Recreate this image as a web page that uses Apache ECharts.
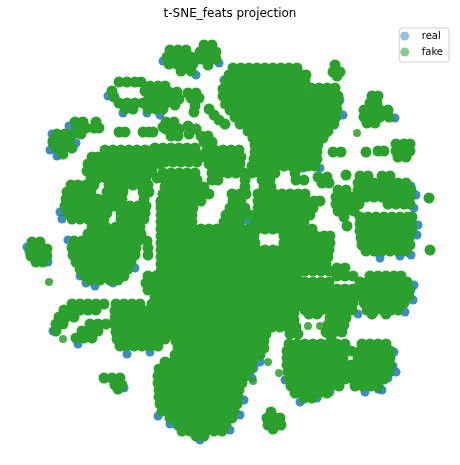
<!DOCTYPE html>
<html>
<head>
<meta charset="utf-8">
<script src="https://cdn.jsdelivr.net/npm/echarts@6/dist/echarts.min.js"></script>
<style>
html, body { margin: 0; padding: 0; background: #fff; }
#main { width: 460px; height: 465px; }
</style>
</head>
<body>
<div id="main"></div>
<script>
// t-SNE coordinates; each row is [y, x, x, ...]
const fakeNorth = [
    // two blobs at the top
    [50, 170, 178, 186], [57, 167, 175, 183, 191], [64, 169, 177, 185, 193], [71, 181, 191],
    [45, 204, 212], [52, 200, 208, 216], [59, 201, 209, 216], [65, 208],
    // ring
    [82, 119, 127, 135, 141], [86, 150, 158, 165], [91, 112, 145, 153, 161], [97, 114, 149, 157, 165],
    [103, 119, 127, 135, 143, 151, 159, 166], [109, 125, 133, 148, 156, 163],
    // pair on the left
    [122, 75, 83, 96], [128, 78, 86, 94, 99], [134, 57, 65, 73, 81], [141, 53, 61, 69],
    [148, 56, 64, 72], [154, 63],
    [132, 119, 125, 143, 149, 153],
    // scattered blobs
    [92, 169, 177], [99, 171, 179], [105, 175], [93, 188, 196], [98, 191, 199], [106, 195], [112, 194],
    [109, 209], [115, 214], [120, 219], [124, 225],
    [122, 166, 174], [127, 163], [129, 166, 174, 179], [136, 171, 178], [126, 188], [134, 189],
    [129, 196], [136, 201, 208], [142, 204, 212],
    [148, 155, 163, 171, 179, 187, 195], [155, 156, 161, 169, 177, 185, 193, 199], [162, 165, 173, 181, 189, 197],
    [150, 207, 215, 223, 231, 239], [157, 205, 213, 221, 229, 237, 241], [164, 209, 217, 225, 233, 240],
    // large upper cluster
    [68, 233, 241, 249, 257, 265, 273, 281, 289, 297],
    [75, 229, 237, 245, 253, 261, 269, 277, 285, 293, 301, 306],
    [82, 226, 234, 242, 250, 258, 266, 274, 282, 290, 298, 305],
    [88, 311, 319, 327, 335],
    [89, 223, 230, 238, 246, 254, 262, 270, 278, 286, 294, 302],
    [96, 223, 231, 239, 247, 255, 263, 271, 279, 287, 295, 303, 311, 319, 327, 335, 338],
    [103, 226, 233, 241, 249, 257, 265, 273, 281, 289, 297, 305, 313, 321, 329, 337],
    [110, 230, 237, 245, 253, 261, 269, 277, 285, 293, 301, 309, 317, 325, 333, 337],
    [117, 235, 242, 250, 258, 266, 274, 282, 290, 298, 306, 314, 322, 330, 336],
    [124, 240, 247, 255, 263, 271, 279, 287, 295, 303, 311, 319, 327, 334],
    [131, 248, 256, 264, 272, 280, 288, 296, 304, 312, 320, 328],
    [138, 253, 261, 269, 277, 285, 293, 301, 309, 317, 323],
    [145, 255, 263, 271, 279, 287, 295, 303, 311, 318],
    [152, 255, 263, 271, 279, 287, 295, 303, 311, 317],
    [159, 254, 262, 270, 278, 286, 294, 302, 310, 317],
    [166, 252, 260, 268, 276, 284, 292, 300, 308, 315],
    // small blobs to the right
    [65, 335], [72, 333, 340], [76, 337],
    [96, 372, 378], [103, 370, 377], [110, 364, 372, 380, 388], [117, 364, 372, 380, 389], [123, 367, 375],
    [144, 396, 404, 410], [151, 396, 404, 410], [157, 398, 406],
    [152, 333, 341, 366], [151, 378, 384]
];

const fakeWest = [
    [150, 105, 113, 121, 129, 137, 145, 153],
    [157, 92, 98, 106, 114, 122, 130, 138, 146, 154],
    [164, 88, 96, 104, 112, 120, 128, 136, 144, 152, 160],
    [171, 87, 96, 104, 112, 120, 128, 136, 144, 152],
    [178, 91, 98, 106, 114, 122, 130, 138, 146, 157],
    [185, 71, 78, 86, 94, 109, 117, 125, 133, 141, 148],
    [192, 67, 75, 83, 91, 107, 115, 123, 143, 149],
    [199, 66, 74, 82, 90, 98, 106, 114, 122, 144],
    [203, 161],
    [206, 65, 74, 82, 90, 98, 106, 114, 122, 130, 138, 146],
    [213, 67, 75, 83, 91, 99, 107, 121, 129, 137, 145],
    [219, 72, 80, 88, 96, 104, 121, 129, 137, 144],
    [227, 92, 100, 106, 116, 124, 132, 140],
    [234, 88, 96, 104, 112, 120, 128, 136, 141],
    [241, 74, 82, 90, 98, 106, 114, 122, 130, 138, 147],
    [248, 72, 80, 88, 96, 104, 112, 120, 128, 136, 148],
    [255, 73, 81, 89, 97, 105, 113, 121, 129, 135, 148],
    [262, 76, 84, 92, 100, 108, 116, 124, 131],
    [269, 80, 88, 96, 104, 112, 120, 128],
    [276, 85, 93, 101, 109, 117, 124, 148, 156, 164],
    [280, 90, 100, 110, 118],
    [283, 146, 154, 162], [290, 148, 156, 164], [297, 155, 163],
    // far left blob
    [242, 32, 40], [249, 31, 39, 47], [256, 31, 39, 47], [262, 36, 43],
    // band and hook
    [304, 72, 80, 88, 96, 104], [310, 64, 72, 80, 88, 96], [317, 59, 66, 74],
    [324, 56, 63, 90, 98, 106], [331, 56, 82, 90, 98], [338, 76, 84, 92],
    // block beside the band
    [304, 116, 124, 132, 140, 152, 160, 168],
    [311, 115, 123, 131, 139, 147, 155, 163],
    [318, 115, 123, 131, 139, 147, 155, 163],
    [325, 115, 123, 131, 139, 147, 155, 163],
    [332, 116, 124, 132, 140, 148, 156, 164],
    [339, 117, 125, 133, 141, 149, 157, 165],
    [346, 120, 126, 134, 142, 150, 158],
    [378, 104, 112, 120], [385, 115, 122], [389, 118]
];

const fakeCentre = [
    [173, 163, 171, 179, 187, 195, 212, 220, 228, 236, 244, 252, 260, 268, 275, 295],
    [180, 165, 173, 181, 189, 197, 212, 218, 245, 262, 270, 296],
    [187, 165, 173, 181, 189, 197, 204, 245, 264, 271],
    [194, 163, 171, 179, 187, 195, 203, 209, 232, 240, 246, 258, 266, 274, 282, 290, 298, 305],
    [201, 161, 169, 177, 185, 193, 201, 233, 241, 258, 266, 274, 282, 290, 298, 306, 314, 320],
    [208, 161, 169, 177, 185, 193, 230, 238, 245, 258, 266, 274, 282, 290, 298, 306, 313],
    [215, 161, 169, 177, 185, 192, 226, 234, 242, 250, 258, 266, 274, 282, 290, 298, 306, 310],
    [222, 161, 169, 177, 185, 192, 224, 232, 240, 256, 264, 272, 280, 288, 296, 304],
    [229, 161, 169, 177, 185, 193, 201, 209, 217, 225, 233, 241, 249, 257, 265, 273, 281, 289, 297, 305, 312],
    [236, 161, 169, 177, 185, 193, 201, 209, 217, 225, 233, 241, 249, 254, 284, 292, 300, 308, 316, 324, 330],
    [243, 161, 169, 177, 185, 193, 201, 209, 217, 225, 233, 241, 249, 255, 284, 292, 300, 308, 316, 324, 330],
    [250, 161, 169, 177, 185, 193, 201, 209, 217, 225, 233, 241, 249, 257, 265, 273, 281, 289, 297, 305, 313, 321, 329],
    [257, 161, 169, 177, 185, 193, 201, 209, 217, 225, 233, 241, 249, 257, 265, 273, 281, 289, 297, 305, 313, 321, 328],
    [264, 161, 169, 177, 185, 193, 201, 209, 217, 225, 233, 241, 249, 257, 265, 273, 281, 289, 297, 305, 313, 321, 326],
    [271, 161, 169, 177, 185, 193, 201, 209, 217, 225, 233, 241, 249, 257, 265, 273, 281, 289, 297],
    [278, 161, 169, 177, 185, 193, 201, 209, 217, 225, 233, 241, 249, 257, 265, 273, 281, 289, 297],
    [285, 161, 169, 177, 185, 193, 201, 209, 217, 225, 233, 241, 249, 257, 265, 273, 281, 289, 297],
    [292, 161, 169, 177, 185, 193, 201, 209, 217, 225, 233, 241, 249, 257, 265, 273, 281, 289, 297],
    [299, 161, 169, 177, 185, 193, 201, 209, 217, 225, 233, 241, 249, 257, 265, 273, 281, 289, 297],
    [306, 165, 173, 181, 189, 197, 205, 213, 221, 229, 237, 245, 253, 261, 269, 277, 285, 293, 297],
    [313, 166, 174, 182, 190, 198, 206, 214, 222, 230, 238, 246, 254, 262, 270, 278, 286, 294],
    [320, 166, 174, 182, 190, 198, 206, 214, 222, 230, 238, 246, 254, 262, 270, 278, 286, 294],
    [327, 168, 176, 184, 192, 200, 208, 216, 224, 232, 240, 248, 256, 264, 272, 280, 288, 296],
    [334, 172, 180, 188, 196, 204, 212, 220, 228, 236, 244, 252, 260, 266, 290, 298]
];

const fakeEast = [
    [180, 304], [177, 318, 327], [183, 322, 329], [175, 346],
    [176, 360, 368, 382, 390],
    [183, 358, 366, 374, 382, 390, 398, 406],
    [190, 338, 346, 358, 366, 374, 382, 390, 398, 406, 411],
    [197, 336, 344, 352, 358, 366, 374, 382, 390, 398, 406, 410],
    [204, 336, 344, 352, 359, 388, 396, 404, 410],
    [211, 338, 346, 354],
    [217, 344, 360, 368, 376, 384, 392, 400, 408, 412],
    [224, 360, 368, 376, 384, 392, 400, 408, 412],
    [226, 347],
    [231, 360, 368, 376, 384, 392, 400, 408, 412],
    [238, 361, 369, 377, 385, 393, 401, 409],
    [245, 362, 370, 378, 386, 394, 402, 410],
    [251, 366, 374, 382, 390, 398, 406],
    [198, 429], [250, 430],
    // band below
    [268, 337, 345],
    [271, 305, 313, 321, 329],
    [276, 337, 345, 353, 370, 378, 386, 394, 401],
    [282, 305, 313, 321, 329, 360, 368, 376, 384, 392, 400, 407],
    [289, 305, 313, 321, 329, 337, 345, 353, 361, 369, 377, 385, 393, 401, 409],
    [296, 305, 313, 321, 329, 337, 345, 353, 361, 369, 377, 385, 393, 401, 409],
    [303, 305, 313, 321, 329, 337, 345, 353, 364, 372, 380, 388, 396, 404],
    [310, 305, 313, 321, 329, 337, 345, 352, 367, 375, 383, 391, 398],
    [314, 309, 317, 372, 386],
    [318, 330, 338, 346], [325, 328, 336, 344], [332, 326, 334, 342], [337, 331],
    // lower right cluster
    [344, 289, 297, 305, 313, 321, 329, 337, 345, 362, 370, 378, 386],
    [351, 287, 295, 303, 311, 319, 327, 335, 343, 351, 360, 368, 376, 384, 390],
    [358, 287, 295, 303, 311, 319, 327, 335, 343, 358, 366, 374, 382, 390],
    [365, 287, 295, 303, 311, 319, 327, 335, 343, 351, 359, 367, 375, 383, 390],
    [372, 288, 296, 304, 312, 320, 328, 336, 344, 352, 360, 368, 376, 384, 389],
    [379, 289, 297, 305, 313, 321, 329, 337, 345, 353, 361, 369, 377, 384],
    [386, 291, 299, 307, 315, 323, 331, 339, 355, 363, 371, 378],
    [393, 295, 303, 311, 319, 327], [398, 304, 312],
    [412, 271], [418, 267, 275, 280], [425, 268, 276, 281], [429, 273]
];

const fakeSouth = [
    [341, 176, 184, 192, 200, 208, 216, 224, 232, 240, 248, 256, 264],
    [348, 178, 186, 194, 202, 210, 218, 226, 234, 242, 250, 258, 264],
    [355, 175, 183, 191, 199, 207, 215, 223, 231, 239, 247, 255, 260],
    [362, 165, 173, 181, 189, 197, 205, 213, 221, 229, 237, 245, 252],
    [369, 159, 167, 175, 183, 191, 199, 207, 215, 223, 231, 239, 247, 251],
    [376, 158, 166, 174, 182, 190, 198, 206, 214, 222, 230, 238, 245],
    [383, 158, 166, 174, 182, 190, 198, 206, 214, 222, 230, 238, 242],
    [390, 159, 167, 175, 183, 191, 199, 207, 215, 223, 231, 239],
    [397, 159, 167, 175, 183, 191, 199, 207, 215, 223, 231, 238],
    [404, 160, 168, 176, 184, 192, 200, 208, 216, 224, 232, 237],
    [411, 162, 170, 178, 186, 194, 202, 210, 218, 226, 234],
    [418, 170, 178, 186, 194, 202, 210, 218, 226, 232],
    [425, 178, 186, 194, 202, 210, 218, 226],
    [431, 182, 190, 198, 206, 214, 222],
    [436, 196, 204]
];

// isolated single points, [x, y]
const fakeSingles = [
    [49, 282], [63, 339], [357, 133], [268, 362], [279, 373], [253, 381], [308, 326], [320, 326], [224, 105]
];

const realPoints = [
    [127, 354], [260, 362], [303, 168], [53, 331], [62, 219], [249, 221], [50, 150], [69, 126],
    [76, 143], [52, 143], [123, 113], [147, 113], [224, 80], [343, 115], [416, 195], [417, 235],
    [411, 255], [393, 366], [388, 378], [378, 389], [411, 290], [413, 300], [252, 378], [200, 440],
    [158, 416], [150, 352], [124, 388], [27, 247], [80, 276], [78, 344], [195, 60], [196, 128],
    [150, 173], [395, 118], [317, 398], [95, 286], [240, 415],
    [394, 352], [396, 372], [382, 390], [365, 392], [330, 392], [300, 402], [285, 380],
    [414, 208], [418, 225], [411, 186], [400, 256], [380, 258], [414, 285], [405, 312], [358, 314],
    [170, 424], [230, 430], [244, 400], [254, 368], [60, 212], [68, 240], [86, 283], [113, 283],
    [135, 268], [57, 156], [52, 134], [340, 100], [325, 135], [320, 168], [108, 96], [160, 115],
    [163, 61], [196, 75], [219, 63], [48, 262], [29, 252]
];

function rowsToPoints(rows) {
    const pts = [];
    rows.forEach(function (row) {
        for (let i = 1; i < row.length; i++) {
            pts.push([row[i], row[0]]);
        }
    });
    return pts;
}

const fakePoints = rowsToPoints(fakeNorth)
    .concat(rowsToPoints(fakeWest))
    .concat(rowsToPoints(fakeCentre))
    .concat(rowsToPoints(fakeEast))
    .concat(rowsToPoints(fakeSouth));

var chartDom = document.getElementById('main');
var myChart = echarts.init(chartDom);
var option = {
    animation: false,
    title: {
        text: 't-SNE_feats projection',
        left: 'center',
        top: 3,
        padding: [5, 5, 5, 5],
        textStyle: {
            fontFamily: 'DejaVu Sans',
            fontSize: 12,
            fontWeight: 'normal',
            color: '#000'
        }
    },
    legend: {
        orient: 'vertical',
        right: 11,
        top: 28,
        icon: 'circle',
        itemWidth: 24,
        itemHeight: 9,
        itemGap: 4,
        padding: [2, 6, 4, 1],
        borderColor: '#d0d0d0',
        borderWidth: 1,
        borderRadius: 3,
        backgroundColor: 'rgba(255,255,255,0.8)',
        selectedMode: false,
        textStyle: { fontFamily: 'DejaVu Sans', fontSize: 10, lineHeight: 12, color: '#000' },
        data: [
            { name: 'real', itemStyle: { color: 'rgba(31,119,180,0.55)' } },
            { name: 'fake', itemStyle: { color: 'rgba(44,160,44,0.55)' } }
        ]
    },
    grid: { left: 0, right: 0, top: 0, bottom: 0 },
    xAxis: { type: 'value', min: 0, max: 460, show: false },
    yAxis: { type: 'value', min: 0, max: 465, inverse: true, show: false },
    series: [
        {
            name: 'real',
            type: 'scatter',
            data: realPoints,
            symbolSize: 9,
            itemStyle: { color: '#1f77b4', opacity: 0.85 }
        },
        {
            name: 'fake',
            type: 'scatter',
            data: fakePoints,
            symbolSize: 11,
            itemStyle: { color: '#2ca02c', opacity: 1 }
        },
        {
            name: 'fake',
            type: 'scatter',
            data: fakeSingles,
            symbolSize: 8,
            itemStyle: { color: '#2ca02c', opacity: 0.85 }
        }
    ]
};
option && myChart.setOption(option);
</script>
</body>
</html>
